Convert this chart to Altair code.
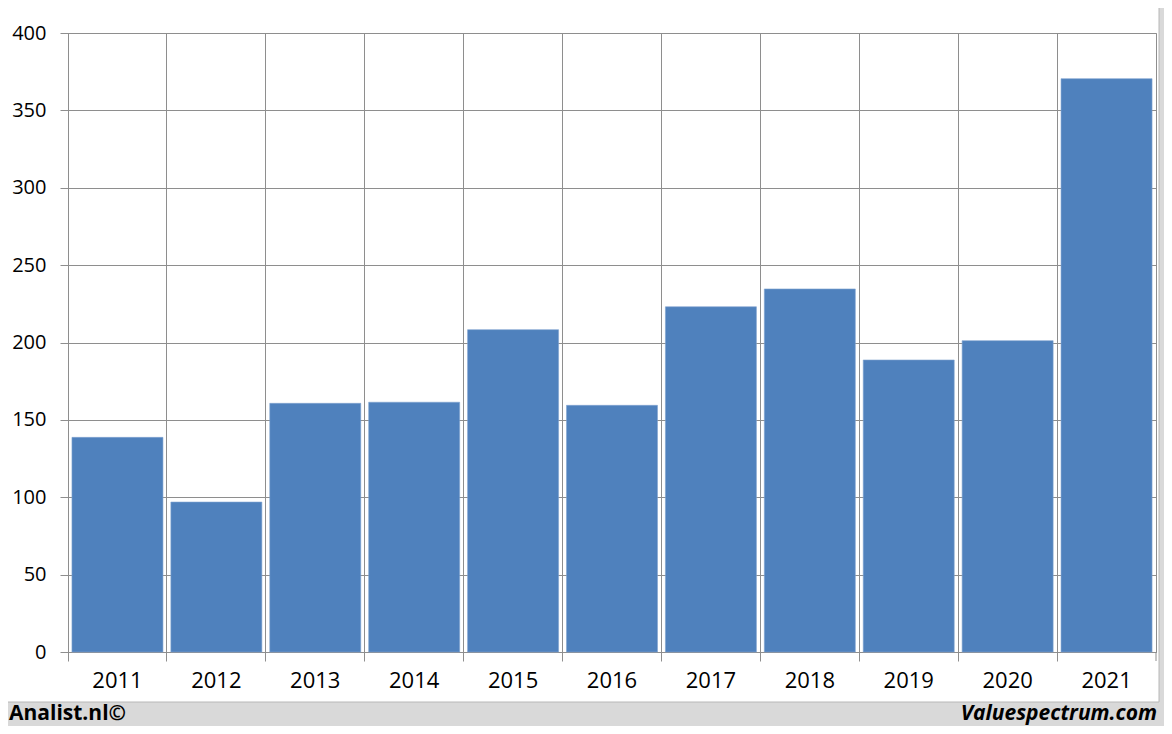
import altair as alt
import pandas as pd

years = ["2011", "2012", "2013", "2014", "2015", "2016", "2017", "2018", "2019", "2020", "2021"]
values = [138.7, 96.9, 160.7, 161.4, 208.3, 159.4, 223.1, 234.6, 188.7, 201.2, 370.5]
y_ticks = [0, 50, 100, 150, 200, 250, 300, 350, 400]

df = pd.DataFrame({"year": years, "value": values})

W, H = 1088, 619
GRID = "#8e8e8e"
FONT = "Open Sans"
BAR = "#4f81bd"
FRAME = "#d9d9d9"
PAD = {"left": 60, "top": 25, "right": 8, "bottom": 74}

x_axis = alt.Axis(
    title=None, bandPosition=0, labelAngle=0,
    labelFont=FONT, labelFontSize=22, labelColor="black", labelPadding=9,
    tickSize=9, tickColor=GRID, domainColor=GRID, grid=True, gridColor=GRID,
    gridWidth=1, gridOpacity=1,
)
y_axis = alt.Axis(
    title=None, values=y_ticks, labelFont=FONT, labelFontSize=20, labelColor="black",
    labelPadding=14, tickSize=8, tickColor=GRID, domainColor=GRID, grid=True,
    gridColor=GRID, gridWidth=1, gridOpacity=1,
)

xs = alt.Scale(paddingInner=0, paddingOuter=0)

bars = alt.Chart(df).mark_bar(width={"band": 0.92}, color=BAR, stroke="#7fa3d0", strokeWidth=0.6).encode(
    x=alt.X("year:N", sort=years, scale=xs, axis=x_axis),
    y=alt.Y("value:Q", scale=alt.Scale(domain=[0, 400], nice=False), axis=y_axis),
)

end_tick = alt.Chart(df).transform_filter(alt.datum.year == years[-1]).mark_rule(color=GRID).encode(
    x=alt.X("year:N", sort=years, scale=xs, bandPosition=1),
    y=alt.value(H),
    y2=alt.value(H + 9),
)

one = alt.Data(values=[{}])
footer = alt.Chart(one).mark_rect(color=FRAME).encode(
    x=alt.value(-60), x2=alt.value(W + PAD["right"]), y=alt.value(669), y2=alt.value(H + PAD["bottom"])
)
right_strip = alt.Chart(one).mark_rect(color=FRAME).encode(
    x=alt.value(1091), x2=alt.value(W + PAD["right"]), y=alt.value(-25), y2=alt.value(H + PAD["bottom"])
)
border = alt.Chart(one).mark_rect(fill=None, stroke="#b8b8b8", strokeWidth=1).encode(
    x=alt.value(-62), x2=alt.value(1091), y=alt.value(-27), y2=alt.value(669)
)
left_txt = alt.Chart(one).mark_text(
    font=FONT, fontSize=21, fontWeight="bold", align="left", baseline="alphabetic", color="black"
).encode(x=alt.value(-59), y=alt.value(687), text=alt.value("Analist.nl©"))
right_txt = alt.Chart(one).mark_text(
    font=FONT, fontSize=21, fontWeight="bold", fontStyle="italic", align="right",
    baseline="alphabetic", color="black"
).encode(x=alt.value(1089), y=alt.value(687), text=alt.value("Valuespectrum.com"))

chart = alt.layer(bars, end_tick, footer, right_strip, border, left_txt, right_txt).properties(
    width=W, height=H,
    autosize=alt.AutoSizeParams(type="none"),
    padding=PAD,
    background="white",
).configure_view(stroke=GRID, strokeWidth=1)

chart.save("out.html", embed_options={"renderer": "svg", "actions": False})
